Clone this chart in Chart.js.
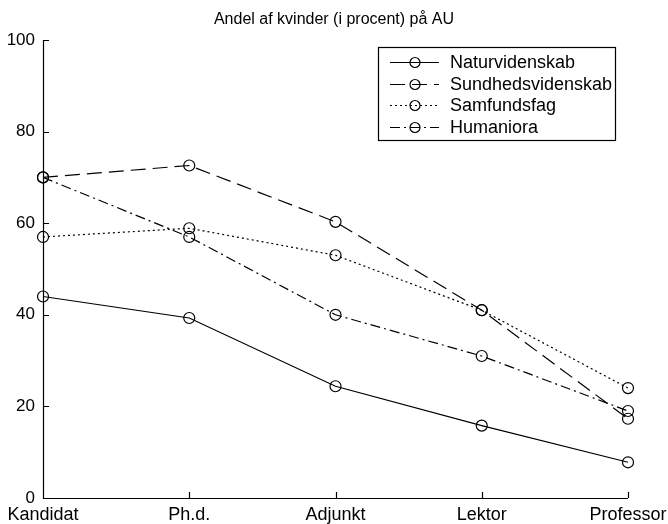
<!DOCTYPE html>
<html>
<head>
<meta charset="utf-8">
<script src="https://cdn.jsdelivr.net/npm/chart.js@4"></script>
<style>
  html, body { margin: 0; padding: 0; background: #fff; }
  #wrap { width: 668px; height: 524px; }
</style>
</head>
<body>
<div id="wrap"><canvas id="chart" width="668" height="524"></canvas></div>
<script>
// Data
const stillinger = ['Kandidat', 'Ph.d.', 'Adjunkt', 'Lektor', 'Professor'];
const naturvidenskab = [44, 39.3, 24.4, 15.8, 7.8];
const sundhedsvidenskab = [70, 72.6, 60.3, 41, 17.3];
const samfundsfag = [57, 58.9, 53, 41, 24];
const humaniora = [70, 57, 40, 31, 19];
const yTicks = [0, 20, 40, 60, 80, 100];

const FONT = 'Liberation Sans, Arial, Helvetica, sans-serif';

function serie(label, data, dash) {
  return {
    label: label,
    data: data,
    borderColor: '#000',
    borderWidth: 1.2,
    borderDash: dash,
    backgroundColor: 'rgba(0,0,0,0)',
    pointRadius: 5.5,
    pointBorderWidth: 1.2,
    pointBorderColor: '#000',
    pointBackgroundColor: 'rgba(0,0,0,0)',
    tension: 0,
    fill: false
  };
}

// Inward tick marks on left and bottom axes
const inwardTicks = {
  id: 'inwardTicks',
  afterDraw(chart) {
    const ctx = chart.ctx;
    const area = chart.chartArea;
    const x = chart.scales.x, y = chart.scales.y;
    ctx.save();
    ctx.strokeStyle = '#000';
    ctx.lineWidth = 1.2;
    ctx.beginPath();
    // axes lines
    ctx.moveTo(area.left + 0.5, area.top);
    ctx.lineTo(area.left + 0.5, area.bottom + 0.5);
    ctx.lineTo(area.right, area.bottom + 0.5);
    y.ticks.forEach((t, i) => {
      const py = Math.round(y.getPixelForTick(i)) + 0.5;
      ctx.moveTo(area.left, py);
      ctx.lineTo(area.left + 6, py);
    });
    x.ticks.forEach((t, i) => {
      const px = Math.round(x.getPixelForTick(i)) + 0.5;
      ctx.moveTo(px, area.bottom);
      ctx.lineTo(px, area.bottom - 6);
    });
    ctx.stroke();
    ctx.restore();
  }
};

// Boxed legend with line sample + marker, top right
const boxLegend = {
  id: 'boxLegend',
  afterDraw(chart) {
    const ctx = chart.ctx;
    const bx = 378, by = 47, bw = 237, bh = 93;
    ctx.save();
    ctx.fillStyle = '#fff';
    ctx.fillRect(bx, by, bw, bh);
    ctx.strokeStyle = '#000';
    ctx.lineWidth = 1.2;
    ctx.strokeRect(bx + 0.5, by + 0.5, bw, bh);
    ctx.font = '18px ' + FONT;
    ctx.textBaseline = 'middle';
    ctx.fillStyle = '#000';
    chart.data.datasets.forEach((ds, i) => {
      const ly = Math.round(by + 15 + i * 21.5) + 0.5;
      ctx.setLineDash(ds.borderDash || []);
      ctx.beginPath();
      ctx.moveTo(390, ly);
      ctx.lineTo(439, ly);
      ctx.stroke();
      ctx.setLineDash([]);
      ctx.beginPath();
      ctx.arc(415, ly, 5, 0, Math.PI * 2);
      ctx.stroke();
      ctx.fillText(ds.label, 450, ly + 1);
    });
    ctx.restore();
  }
};

const chart = new Chart(document.getElementById('chart'), {
  type: 'line',
  data: {
    labels: stillinger,
    datasets: [
      serie('Naturvidenskab', naturvidenskab, []),
      serie('Sundhedsvidenskab', sundhedsvidenskab, [15, 7]),
      serie('Samfundsfag', samfundsfag, [2, 3]),
      serie('Humaniora', humaniora, [10, 4, 2, 4])
    ]
  },
  options: {
    responsive: false,
    animation: false,
    layout: { padding: 0 },
    plugins: {
      legend: { display: false },
      tooltip: { enabled: false },
      title: {
        display: true,
        text: 'Andel af kvinder (i procent) på AU',
        color: '#000',
        font: { family: FONT, size: 16, weight: 'normal', lineHeight: 1.2 },
        padding: { top: 10, bottom: 10.8 }
      }
    },
    scales: {
      x: {
        type: 'category',
        offset: false,
        grid: { display: false, drawTicks: false },
        border: { display: false },
        ticks: { color: '#000', font: { family: FONT, size: 18 }, padding: 6, maxRotation: 0, autoSkip: false },
        afterFit(s) {
          s.height = 26;
          s.paddingLeft = 0;
          s.paddingRight = 40;
        }
      },
      y: {
        min: 0,
        max: 100,
        afterBuildTicks(s) { s.ticks = yTicks.map(v => ({ value: v })); },
        grid: { display: false, drawTicks: false },
        border: { display: false },
        ticks: { color: '#000', font: { family: FONT, size: 17 }, padding: 8 },
        afterFit(s) {
          s.width = 43;
          s.paddingTop = 0;
          s.paddingBottom = 0;
        }
      }
    }
  },
  plugins: [inwardTicks, boxLegend]
});
</script>
</body>
</html>
